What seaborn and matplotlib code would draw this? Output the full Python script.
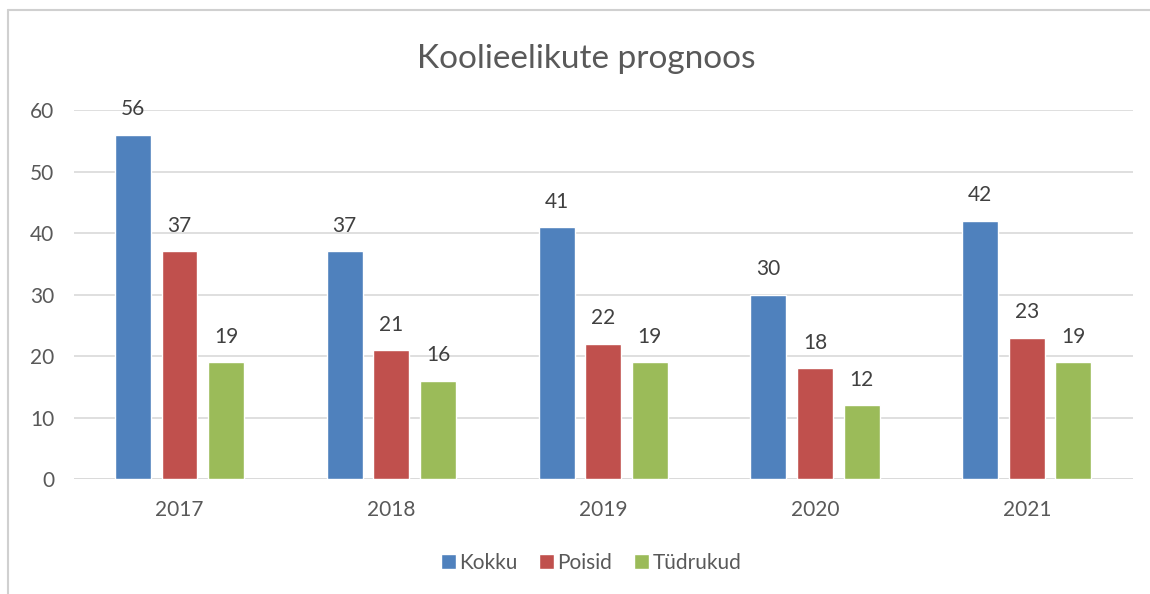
import pandas as pd
import matplotlib
matplotlib.use("Agg")
import matplotlib.pyplot as plt
from matplotlib.lines import Line2D
import seaborn as sns

# Chart data
years = ["2017", "2018", "2019", "2020", "2021"]
kokku = [56, 37, 41, 30, 42]
poisid = [37, 21, 22, 18, 23]
tudrukud = [19, 16, 19, 12, 19]
series_names = ["Kokku", "Poisid", "Tüdrukud"]
y_ticks = [0, 10, 20, 30, 40, 50, 60]

colors = ["#4F81BD", "#C0504D", "#9BBB59"]
text_color = "#595959"
label_color = "#404040"
grid_color = "#D9D9D9"

df = pd.DataFrame({
    "year": years * 3,
    "value": kokku + poisid + tudrukud,
    "series": [series_names[0]] * 5 + [series_names[1]] * 5 + [series_names[2]] * 5,
})

sns.set_theme(style="white")
plt.rcParams["font.family"] = ["Lato", "DejaVu Sans"]

fig = plt.figure(figsize=(11.5, 5.94), dpi=100)
ax = fig.add_axes([0.064, 0.1936, 0.921, 0.6212])

sns.barplot(data=df, x="year", y="value", hue="series", order=years,
            hue_order=series_names, palette=colors, width=0.66, gap=0.23,
            saturation=1, ax=ax, legend=True)

ax.set_ylim(0, 60)
ax.set_xlim(-0.5, len(years) - 0.5)
ax.set_yticks(y_ticks)
ax.yaxis.grid(True, color=grid_color, linewidth=1.2)
ax.set_axisbelow(True)
for side in ["top", "right", "left", "bottom"]:
    ax.spines[side].set_visible(False)
ax.axhline(0, color=grid_color, linewidth=1.2, zorder=0)
ax.set_xlabel("")
ax.set_ylabel("")
ax.tick_params(axis="y", length=0, pad=14, labelsize=15, labelcolor=text_color)
ax.tick_params(axis="x", length=0, pad=15, labelsize=15, labelcolor=text_color)

for container in ax.containers:
    ax.bar_label(container, padding=11, fontsize=15, color=label_color)

# legend at bottom
handles, labels = ax.get_legend_handles_labels()
ax.legend_.remove()
fig.legend(handles, labels, loc="center", bbox_to_anchor=(0.514, 0.052), ncol=3,
           frameon=False, fontsize=15, handlelength=0.72, handleheight=0.72,
           handletextpad=0.15, columnspacing=1.05, labelcolor=text_color)

fig.suptitle("Koolieelikute prognoos", x=0.51, y=0.9, fontsize=24,
             color=text_color, va="center")

# chart frame (top and left edges only)
fig.add_artist(Line2D([0.007, 1.0], [0.983, 0.983], color="#D0D0D0", linewidth=1.5))
fig.add_artist(Line2D([0.007, 0.007], [0.0, 0.983], color="#D0D0D0", linewidth=1.5))

fig.savefig("out.png", dpi=100, facecolor="white")
